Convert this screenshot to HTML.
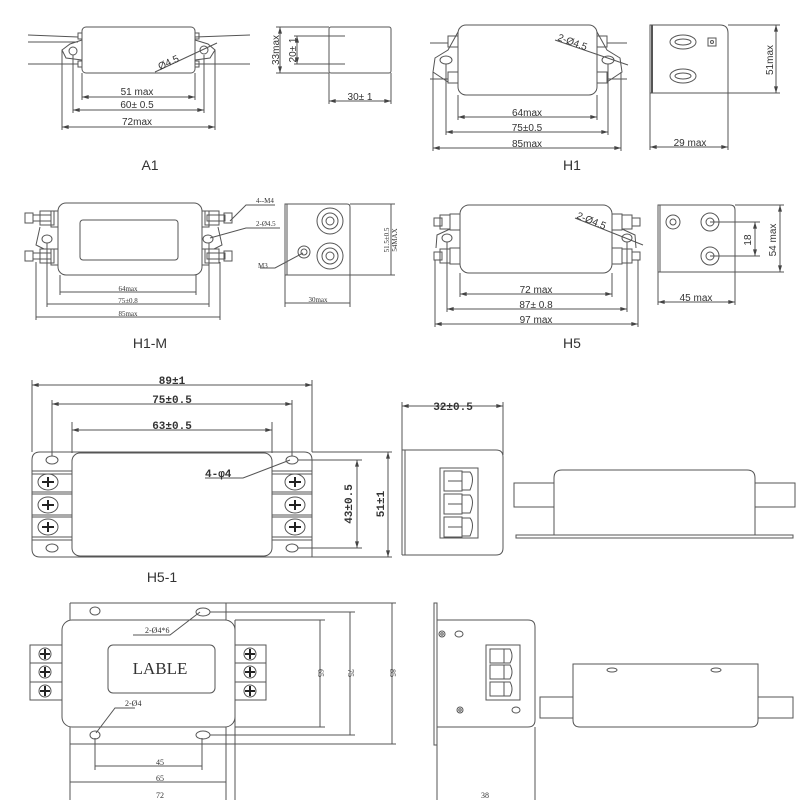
<!DOCTYPE html>
<html><head><meta charset="utf-8"><style>
html,body{margin:0;padding:0;background:#fff;}
svg{display:block;}
text{font-family:"Liberation Sans",sans-serif;fill:#333;}
.s{font-family:"Liberation Serif",serif;}
</style></head><body>
<svg width="800" height="800" viewBox="0 0 800 800" xmlns="http://www.w3.org/2000/svg">
<defs>
<marker id="a" viewBox="0 0 10 6" refX="10" refY="3" markerWidth="8" markerHeight="4" orient="auto-start-reverse"><path d="M0,0L10,3L0,6z" fill="#444"/></marker>
</defs>
<g fill="none" stroke="#555" stroke-width="1">
<!-- ===== A1 ===== -->
<line x1="28" y1="35" x2="78" y2="37"/><line x1="28" y1="42" x2="78" y2="42"/><line x1="28" y1="64" x2="78" y2="64"/>
<line x1="195" y1="37" x2="250" y2="35"/><line x1="195" y1="64" x2="250" y2="64"/>
<path d="M82,40 L70,44 L62,50 L66,58 L82,60"/><path d="M195,40 L208,44 L215,50 L210,58 L195,60"/>
<circle cx="73" cy="51" r="4"/><circle cx="204" cy="50" r="4"/>
<rect x="82" y="27" width="113" height="46" rx="4"/>
<rect x="78" y="33" width="4" height="6"/><rect x="195" y="33" width="4" height="6"/><rect x="78" y="61" width="4" height="6"/><rect x="195" y="61" width="4" height="6"/>
<line x1="155" y1="72" x2="217" y2="43"/>
<line x1="82" y1="73" x2="82" y2="100"/><line x1="195" y1="73" x2="195" y2="100"/>
<line x1="73" y1="55" x2="73" y2="113"/><line x1="204" y1="55" x2="204" y2="113"/>
<line x1="62" y1="50" x2="62" y2="130"/><line x1="215" y1="50" x2="215" y2="130"/>
<line x1="82" y1="97" x2="195" y2="97" marker-start="url(#a)" marker-end="url(#a)"/>
<line x1="73" y1="110" x2="204" y2="110" marker-start="url(#a)" marker-end="url(#a)"/>
<line x1="62" y1="127" x2="215" y2="127" marker-start="url(#a)" marker-end="url(#a)"/>
<!-- A1 side -->
<rect x="329" y="27" width="62" height="46" rx="2"/>
<line x1="276" y1="27" x2="329" y2="27"/><line x1="276" y1="73" x2="329" y2="73"/>
<line x1="280" y1="27" x2="280" y2="73" marker-start="url(#a)" marker-end="url(#a)"/>
<line x1="294" y1="36" x2="345" y2="36"/><line x1="294" y1="64" x2="345" y2="64"/>
<line x1="297" y1="36" x2="297" y2="64" marker-start="url(#a)" marker-end="url(#a)"/>
<line x1="329" y1="73" x2="329" y2="104"/><line x1="391" y1="73" x2="391" y2="104"/>
<line x1="329" y1="101" x2="391" y2="101" marker-start="url(#a)" marker-end="url(#a)"/>

<!-- ===== H1 ===== -->
<line x1="430" y1="43" x2="448" y2="43"/><line x1="430" y1="79" x2="448" y2="79"/>
<line x1="607" y1="43" x2="627" y2="43"/><line x1="607" y1="79" x2="627" y2="79"/>
<path d="M458,32 L448,50 L435,58 L433,72 L448,82"/><path d="M597,32 L607,50 L620,58 L622,72 L607,82"/>
<ellipse cx="446" cy="60" rx="6" ry="4"/><ellipse cx="608" cy="60" rx="6" ry="4"/>
<rect x="458" y="25" width="139" height="70" rx="8"/>
<rect x="448" y="36" width="10" height="11"/><rect x="448" y="72" width="10" height="11"/><rect x="597" y="36" width="10" height="11"/><rect x="597" y="72" width="10" height="11"/>
<line x1="555" y1="40" x2="628" y2="65"/>
<line x1="458" y1="95" x2="458" y2="120"/><line x1="597" y1="95" x2="597" y2="120"/>
<line x1="446" y1="64" x2="446" y2="135"/><line x1="608" y1="64" x2="608" y2="135"/>
<line x1="433" y1="72" x2="433" y2="151"/><line x1="621" y1="72" x2="621" y2="151"/>
<line x1="458" y1="117" x2="597" y2="117" marker-start="url(#a)" marker-end="url(#a)"/>
<line x1="446" y1="132" x2="608" y2="132" marker-start="url(#a)" marker-end="url(#a)"/>
<line x1="433" y1="148" x2="621" y2="148" marker-start="url(#a)" marker-end="url(#a)"/>
<!-- H1 side -->
<path d="M650,25 H720 Q728,25 728,33 V93 H650 Z"/>
<line x1="652" y1="25" x2="652" y2="93" stroke-width="2"/>
<ellipse cx="683" cy="42" rx="13" ry="7"/><ellipse cx="683" cy="42" rx="8" ry="3"/>
<ellipse cx="683" cy="76" rx="13" ry="7"/><ellipse cx="683" cy="76" rx="8" ry="3"/>
<rect x="708" y="38" width="8" height="8"/><circle cx="712" cy="42" r="1.5"/>
<line x1="728" y1="25" x2="780" y2="25"/><line x1="728" y1="93" x2="780" y2="93"/>
<line x1="776" y1="25" x2="776" y2="93" marker-start="url(#a)" marker-end="url(#a)"/>
<line x1="650" y1="93" x2="650" y2="150"/><line x1="728" y1="93" x2="728" y2="150"/>
<line x1="650" y1="147" x2="728" y2="147" marker-start="url(#a)" marker-end="url(#a)"/>

<!-- ===== H1-M ===== -->
<rect x="58" y="203" width="144" height="72" rx="8"/>
<rect x="80" y="220" width="98" height="40" rx="3"/>
<rect x="25" y="213" width="8" height="10"/><rect x="33" y="215" width="18" height="6"/><rect x="40" y="211" width="14" height="14"/><rect x="51" y="211" width="7" height="16"/>
<rect x="25" y="251" width="8" height="10"/><rect x="33" y="253" width="18" height="6"/><rect x="40" y="249" width="14" height="14"/><rect x="51" y="249" width="7" height="16"/>
<rect x="224" y="213" width="8" height="10"/><rect x="207" y="215" width="18" height="6"/><rect x="205" y="211" width="14" height="14"/><rect x="202" y="211" width="7" height="16"/>
<rect x="224" y="251" width="8" height="10"/><rect x="207" y="253" width="18" height="6"/><rect x="205" y="249" width="14" height="14"/><rect x="202" y="249" width="7" height="16"/>
<path d="M40,227 L36,245 L44,249"/><path d="M218,227 L222,245 L214,249"/>
<ellipse cx="47" cy="239" rx="5" ry="4"/><ellipse cx="208" cy="239" rx="5" ry="4"/>
<polyline points="230,221 246,205 275,205"/><polyline points="210,238 246,228 280,228"/>
<line x1="60" y1="275" x2="60" y2="295"/><line x1="196" y1="275" x2="196" y2="295"/>
<line x1="47" y1="243" x2="47" y2="307"/><line x1="209" y1="243" x2="209" y2="307"/>
<line x1="36" y1="262" x2="36" y2="320"/><line x1="220" y1="262" x2="220" y2="320"/>
<line x1="60" y1="292" x2="196" y2="292"/><line x1="47" y1="304" x2="209" y2="304"/><line x1="36" y1="317" x2="220" y2="317"/>
<!-- H1-M side -->
<path d="M285,204 H347 Q350,204 350,207 V275 H285 Z"/><line x1="287" y1="204" x2="287" y2="275"/>
<circle cx="330" cy="221" r="13"/><circle cx="330" cy="221" r="8"/><circle cx="330" cy="221" r="4"/>
<circle cx="330" cy="256" r="13"/><circle cx="330" cy="256" r="8"/><circle cx="330" cy="256" r="4"/>
<circle cx="304" cy="252" r="6"/><circle cx="304" cy="252" r="3"/>
<polyline points="303,253 275,268 260,268"/>
<line x1="350" y1="204" x2="395" y2="204"/><line x1="350" y1="275" x2="395" y2="275"/>
<line x1="391" y1="204" x2="391" y2="275"/>
<line x1="285" y1="275" x2="285" y2="307"/><line x1="350" y1="275" x2="350" y2="307"/>
<line x1="285" y1="303" x2="350" y2="303"/>

<!-- ===== H5 ===== -->
<rect x="460" y="205" width="152" height="68" rx="9"/>
<rect x="434" y="218" width="8" height="8"/><rect x="440" y="215" width="10" height="14"/><rect x="450" y="214" width="10" height="16"/>
<rect x="434" y="252" width="8" height="8"/><rect x="440" y="249" width="10" height="14"/><rect x="450" y="248" width="10" height="16"/>
<rect x="632" y="218" width="8" height="8"/><rect x="622" y="215" width="10" height="14"/><rect x="612" y="214" width="10" height="16"/>
<rect x="632" y="252" width="8" height="8"/><rect x="622" y="249" width="10" height="14"/><rect x="612" y="248" width="10" height="16"/>
<path d="M450,229 L437,235 L436,248"/><path d="M622,229 L635,235 L636,248"/>
<ellipse cx="447" cy="238" rx="5" ry="4"/><ellipse cx="627" cy="238" rx="5" ry="4"/>
<line x1="575" y1="218" x2="643" y2="245"/>
<line x1="460" y1="273" x2="460" y2="297"/><line x1="612" y1="273" x2="612" y2="297"/>
<line x1="447" y1="242" x2="447" y2="312"/><line x1="627" y1="242" x2="627" y2="312"/>
<line x1="435" y1="260" x2="435" y2="327"/><line x1="638" y1="260" x2="638" y2="327"/>
<line x1="460" y1="294" x2="612" y2="294" marker-start="url(#a)" marker-end="url(#a)"/>
<line x1="447" y1="309" x2="627" y2="309" marker-start="url(#a)" marker-end="url(#a)"/>
<line x1="435" y1="324" x2="638" y2="324" marker-start="url(#a)" marker-end="url(#a)"/>
<!-- H5 side -->
<path d="M658,205 H730 Q735,205 735,210 V272 H658 Z"/><line x1="660" y1="205" x2="660" y2="272"/>
<circle cx="673" cy="222" r="7"/><circle cx="673" cy="222" r="3"/>
<circle cx="710" cy="222" r="9"/><circle cx="710" cy="222" r="4"/>
<circle cx="710" cy="256" r="9"/><circle cx="710" cy="256" r="4"/>
<line x1="710" y1="222" x2="760" y2="222"/><line x1="710" y1="256" x2="760" y2="256"/>
<line x1="755" y1="222" x2="755" y2="256" marker-start="url(#a)" marker-end="url(#a)"/>
<line x1="735" y1="205" x2="784" y2="205"/><line x1="735" y1="272" x2="784" y2="272"/>
<line x1="780" y1="205" x2="780" y2="272" marker-start="url(#a)" marker-end="url(#a)"/>
<line x1="658" y1="272" x2="658" y2="305"/><line x1="735" y1="272" x2="735" y2="305"/>
<line x1="658" y1="302" x2="735" y2="302" marker-start="url(#a)" marker-end="url(#a)"/>

<!-- ===== H5-1 ===== -->
<path d="M40,452 H304 Q312,452 312,460 V557 H40 Q32,557 32,549 V460 Q32,452 40,452 Z"/>
<rect x="72" y="453" width="200" height="103" rx="8"/>
<line x1="32" y1="471" x2="72" y2="471"/><line x1="32" y1="474" x2="72" y2="474"/>
<line x1="32" y1="492" x2="72" y2="492"/><line x1="32" y1="494" x2="72" y2="494"/>
<line x1="32" y1="515" x2="72" y2="515"/><line x1="32" y1="517" x2="72" y2="517"/>
<line x1="32" y1="537" x2="72" y2="537"/><line x1="32" y1="540" x2="72" y2="540"/>
<line x1="272" y1="471" x2="312" y2="471"/><line x1="272" y1="474" x2="312" y2="474"/>
<line x1="272" y1="492" x2="312" y2="492"/><line x1="272" y1="494" x2="312" y2="494"/>
<line x1="272" y1="515" x2="312" y2="515"/><line x1="272" y1="517" x2="312" y2="517"/>
<line x1="272" y1="537" x2="312" y2="537"/><line x1="272" y1="540" x2="312" y2="540"/>
<ellipse cx="52" cy="460" rx="6" ry="4"/><ellipse cx="292" cy="460" rx="6" ry="4"/>
<ellipse cx="52" cy="548" rx="6" ry="4"/><ellipse cx="292" cy="548" rx="6" ry="4"/>
<g>
<ellipse cx="48" cy="482" rx="10" ry="8"/><ellipse cx="48" cy="505" rx="10" ry="8"/><ellipse cx="48" cy="527" rx="10" ry="8"/>
<ellipse cx="295" cy="482" rx="10" ry="8"/><ellipse cx="295" cy="505" rx="10" ry="8"/><ellipse cx="295" cy="527" rx="10" ry="8"/>
</g>
<g stroke="#222" stroke-width="2">
<path d="M42,482h12M48,477v10M42,505h12M48,500v10M42,527h12M48,522v10"/>
<path d="M289,482h12M295,477v10M289,505h12M295,500v10M289,527h12M295,522v10"/>
</g>
<line x1="32" y1="380" x2="32" y2="452"/><line x1="312" y1="380" x2="312" y2="452"/>
<line x1="52" y1="400" x2="52" y2="456"/><line x1="292" y1="400" x2="292" y2="456"/>
<line x1="72" y1="422" x2="72" y2="453"/><line x1="272" y1="422" x2="272" y2="453"/>
<line x1="32" y1="385" x2="312" y2="385" marker-start="url(#a)" marker-end="url(#a)"/>
<line x1="52" y1="404" x2="292" y2="404" marker-start="url(#a)" marker-end="url(#a)"/>
<line x1="72" y1="430" x2="272" y2="430" marker-start="url(#a)" marker-end="url(#a)"/>
<polyline points="290,460 243,478 205,478"/>
<line x1="298" y1="460" x2="362" y2="460"/><line x1="298" y1="548" x2="362" y2="548"/>
<line x1="312" y1="452" x2="392" y2="452"/><line x1="312" y1="557" x2="392" y2="557"/>
<line x1="357" y1="460" x2="357" y2="548" marker-start="url(#a)" marker-end="url(#a)"/>
<line x1="388" y1="452" x2="388" y2="557" marker-start="url(#a)" marker-end="url(#a)"/>
<!-- H5-1 side -->
<line x1="402" y1="402" x2="402" y2="555"/><line x1="503" y1="402" x2="503" y2="455"/>
<line x1="402" y1="406" x2="503" y2="406" marker-start="url(#a)" marker-end="url(#a)"/>
<path d="M402,450 H496 Q503,450 503,457 V548 Q503,555 496,555 H402"/><line x1="405" y1="450" x2="405" y2="555"/>
<rect x="440" y="468" width="38" height="70"/>
<g>
<rect x="444" y="471" width="18" height="20"/><line x1="448" y1="481" x2="462" y2="481"/><path d="M462,472 H470 Q475,478 470,490 H462"/>
<rect x="444" y="494" width="18" height="20"/><line x1="448" y1="504" x2="462" y2="504"/><path d="M462,495 H470 Q475,501 470,513 H462"/>
<rect x="444" y="517" width="18" height="20"/><line x1="448" y1="527" x2="462" y2="527"/><path d="M462,518 H470 Q475,524 470,536 H462"/>
</g>
<!-- H5-1 front -->
<rect x="514" y="483" width="40" height="24"/><rect x="755" y="483" width="40" height="24"/>
<path d="M554,535 V478 Q554,470 562,470 H747 Q755,470 755,478 V535"/>
<rect x="516" y="535" width="277" height="3"/>

<!-- ===== Bottom ===== -->
<line x1="70" y1="603" x2="70" y2="800"/><line x1="226" y1="603" x2="226" y2="620"/><line x1="226" y1="727" x2="226" y2="800"/>
<line x1="70" y1="603" x2="396" y2="603"/><line x1="70" y1="744" x2="396" y2="744"/>
<line x1="235" y1="620" x2="235" y2="800"/>
<rect x="30" y="645" width="32" height="55"/><rect x="235" y="645" width="31" height="55"/>
<line x1="30" y1="663" x2="62" y2="663"/><line x1="30" y1="682" x2="62" y2="682"/>
<line x1="235" y1="663" x2="266" y2="663"/><line x1="235" y1="682" x2="266" y2="682"/>
<circle cx="45" cy="654" r="6"/><circle cx="45" cy="672" r="6"/><circle cx="45" cy="691" r="6"/>
<circle cx="250" cy="654" r="6"/><circle cx="250" cy="672" r="6"/><circle cx="250" cy="691" r="6"/>
<g stroke="#222" stroke-width="2"><path d="M40,654h10M45,649v10M40,672h10M45,667v10M40,691h10M45,686v10M245,654h10M250,649v10M245,672h10M250,667v10M245,691h10M250,686v10"/></g>
<rect x="62" y="620" width="173" height="107" rx="10" fill="#fff"/>
<rect x="108" y="645" width="107" height="48" rx="5"/>
<ellipse cx="95" cy="611" rx="5" ry="4"/><ellipse cx="203" cy="612" rx="7" ry="4"/>
<ellipse cx="95" cy="735" rx="5" ry="4"/><ellipse cx="203" cy="735" rx="7" ry="4"/>
<polyline points="200,612 170,635 133,635"/><polyline points="96,733 115,708 135,708"/>
<line x1="95" y1="738" x2="95" y2="770"/><line x1="202" y1="738" x2="202" y2="770"/>
<line x1="95" y1="766" x2="202" y2="766"/><line x1="70" y1="782" x2="226" y2="782"/>
<line x1="210" y1="612" x2="355" y2="612"/><line x1="210" y1="735" x2="355" y2="735"/>
<line x1="235" y1="620" x2="325" y2="620"/><line x1="235" y1="727" x2="325" y2="727"/>
<line x1="320" y1="620" x2="320" y2="727"/><line x1="350" y1="612" x2="350" y2="735"/><line x1="392" y1="603" x2="392" y2="744"/>
<!-- bottom side -->
<rect x="434" y="603" width="3" height="142"/>
<path d="M437,620 H528 Q535,620 535,627 V720 Q535,727 528,727 H437"/>
<line x1="437" y1="727" x2="437" y2="800"/><line x1="535" y1="727" x2="535" y2="800"/>
<circle cx="442" cy="634" r="3"/><circle cx="442" cy="634" r="1.2"/><ellipse cx="459" cy="634" rx="4" ry="3"/>
<circle cx="460" cy="710" r="3"/><circle cx="460" cy="710" r="1.2"/><ellipse cx="516" cy="710" rx="4" ry="3"/>
<rect x="486" y="645" width="34" height="55"/>
<rect x="490" y="649" width="14" height="14"/><path d="M504,649 H510 Q514,656 510,663 H504"/>
<rect x="490" y="665" width="14" height="14"/><path d="M504,665 H510 Q514,672 510,679 H504"/>
<rect x="490" y="682" width="14" height="14"/><path d="M504,682 H510 Q514,689 510,696 H504"/>
<!-- bottom front -->
<rect x="540" y="697" width="33" height="21"/><rect x="758" y="697" width="35" height="21"/>
<path d="M573,664 H758 V720 Q758,727 751,727 H580 Q573,727 573,720 Z"/>
<ellipse cx="612" cy="670" rx="5" ry="2"/><ellipse cx="716" cy="670" rx="5" ry="2"/>
</g>

<!-- ===== Texts ===== -->
<g font-size="10">
<text x="137" y="95" text-anchor="middle">51 max</text>
<text x="137" y="108" text-anchor="middle">60± 0.5</text>
<text x="137" y="125" text-anchor="middle">72max</text>
<text transform="translate(160,70) rotate(-25)">Ø4.5</text>
<text transform="translate(279,50) rotate(-90)" text-anchor="middle">33max</text>
<text transform="translate(296,50) rotate(-90)" text-anchor="middle">20± 1</text>
<text x="360" y="100" text-anchor="middle">30± 1</text>
<text x="527" y="116" text-anchor="middle">64max</text>
<text x="527" y="131" text-anchor="middle">75±0.5</text>
<text x="527" y="147" text-anchor="middle">85max</text>
<text transform="translate(557,40) rotate(20)">2-Ø4.5</text>
<text transform="translate(773,60) rotate(-90)" text-anchor="middle">51max</text>
<text x="690" y="146" text-anchor="middle">29 max</text>
<text x="536" y="293" text-anchor="middle">72 max</text>
<text x="536" y="308" text-anchor="middle">87± 0.8</text>
<text x="536" y="323" text-anchor="middle">97 max</text>
<text transform="translate(576,218) rotate(22)">2-Ø4.5</text>
<text transform="translate(751,240) rotate(-90)" text-anchor="middle">18</text>
<text transform="translate(776,240) rotate(-90)" text-anchor="middle">54 max</text>
<text x="696" y="301" text-anchor="middle">45 max</text>
</g>
<g font-size="7" class="s">
<text x="128" y="291" text-anchor="middle" class="s">64max</text>
<text x="128" y="303" text-anchor="middle" class="s">75±0.8</text>
<text x="128" y="316" text-anchor="middle" class="s">85max</text>
<text x="256" y="203" class="s">4--M4</text>
<text x="256" y="226" class="s">2-Ø4.5</text>
<text x="258" y="268" class="s">M3</text>
<text x="318" y="302" text-anchor="middle" class="s">30max</text>
<text transform="translate(389,240) rotate(-90)" text-anchor="middle" class="s">51.5±0.5</text>
<text transform="translate(397,240) rotate(-90)" text-anchor="middle" class="s">54MAX</text>
<text x="145" y="633" font-size="8" class="s">2-Ø4*6</text>
<text x="125" y="706" font-size="8" class="s">2-Ø4</text>
<text x="160" y="765" text-anchor="middle" font-size="8" class="s">45</text>
<text x="160" y="781" text-anchor="middle" font-size="8" class="s">65</text>
<text x="160" y="798" text-anchor="middle" font-size="8" class="s">72</text>
<text x="485" y="798" text-anchor="middle" font-size="8" class="s">38</text>
<text transform="translate(318,673) rotate(90)" text-anchor="middle" font-size="8" class="s">65</text>
<text transform="translate(348,673) rotate(90)" text-anchor="middle" font-size="8" class="s">75</text>
<text transform="translate(390,673) rotate(90)" text-anchor="middle" font-size="8" class="s">85</text>
</g>
<g font-size="11" font-weight="bold" style="font-family:'Liberation Mono',monospace">
<text x="172" y="384" text-anchor="middle" style="font-family:'Liberation Mono',monospace">89±1</text>
<text x="172" y="403" text-anchor="middle" style="font-family:'Liberation Mono',monospace">75±0.5</text>
<text x="172" y="429" text-anchor="middle" style="font-family:'Liberation Mono',monospace">63±0.5</text>
<text x="205" y="477" style="font-family:'Liberation Mono',monospace">4-φ4</text>
<text x="453" y="410" text-anchor="middle" style="font-family:'Liberation Mono',monospace">32±0.5</text>
<text transform="translate(352,504) rotate(-90)" text-anchor="middle" style="font-family:'Liberation Mono',monospace">43±0.5</text>
<text transform="translate(384,504) rotate(-90)" text-anchor="middle" style="font-family:'Liberation Mono',monospace">51±1</text>
</g>
<text x="160" y="674" font-size="17" text-anchor="middle" class="s">LABLE</text>
<g font-size="14">
<text x="150" y="170" text-anchor="middle">A1</text>
<text x="572" y="170" text-anchor="middle">H1</text>
<text x="150" y="348" text-anchor="middle">H1-M</text>
<text x="572" y="348" text-anchor="middle">H5</text>
<text x="162" y="582" text-anchor="middle">H5-1</text>
</g>
</svg>
</body></html>
